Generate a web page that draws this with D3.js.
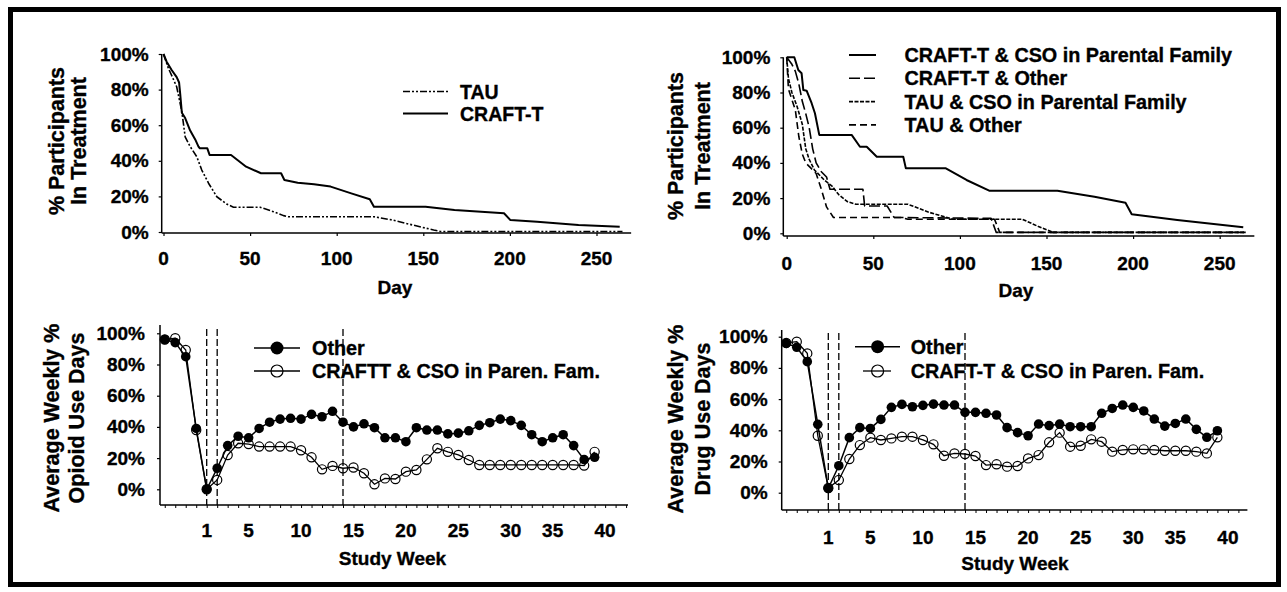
<!DOCTYPE html>
<html><head><meta charset="utf-8">
<script src="https://cdn.jsdelivr.net/npm/d3@7"></script>
<style>
body{margin:0;background:#fff;}
svg text{font-family:"Liberation Sans",Arial,Helvetica,sans-serif;font-weight:bold;fill:#000;stroke:#000;stroke-width:0.35px;}
</style></head><body>
<svg id="c" width="1287" height="592"></svg>
<script>
// ---------- DATA ----------
const dayTicks = [0, 50, 100, 150, 200, 250];
const pctTicks = [0, 20, 40, 60, 80, 100];

// Top-left: retention by condition [day, % in treatment]
const tauCurve = [[0,100],[2.8,92],[4.7,88],[7.6,81.6],[10.6,67.6],[12.5,53.5],[15.4,48],[19.2,42.3],[22.1,34.8],[26,27.4],[30.8,19.8],[36.5,15.7],[40.4,13.9],[55.8,13.9],[63.5,11.4],[69.3,9.2],[72,8.6],[121.5,8.6],[132.3,6.7],[144,3.9],[156,1.1],[160,0.3],[265,0.3]];
const craftCurve = [[0,100],[1.8,95.7],[4.7,91],[7.6,87],[9,84],[9.6,78],[10.6,67],[12.5,64],[15.4,57],[18.3,52],[20.2,48],[21,47],[25.3,47],[26.6,43.3],[39,43.3],[47.7,36.7],[56.3,33],[67.9,33],[69.8,29.2],[77.5,27.7],[86.9,26.8],[96.5,25.5],[108.4,21.7],[119.1,18.4],[121.5,14.2],[151.3,14.2],[168,12.4],[196.6,10.5],[200.3,6.7],[215.7,5.8],[239.6,3.9],[263.4,3]];
const topLeftNames = ["TAU", "CRAFT-T"];

// Top-right: retention by condition x CSO
const craftParentCurve = [[0,100],[4.4,100],[6.7,92.8],[8.6,90.9],[9.6,81.4],[11.5,81],[14.4,73.9],[16.3,68.2],[18.8,55.9],[37.5,55.9],[42.3,49.2],[46.2,49.2],[52,43.5],[67.3,43.5],[68.8,36.9],[91.9,36.9],[103.8,30.3],[116.9,24.2],[156.3,24.2],[177.7,20.8],[195.6,17.4],[199.2,10.8],[225.5,7.6],[263.6,3.4]];
const craftOtherCurve = [[0,100],[3,96],[5,92],[7,85],[9,75],[11,68],[13,60],[15,48],[17,40],[20,35],[23,32],[25,25],[44,25],[45,15.5],[58,15.5],[62,9],[118,8.5],[121,0.5],[265,0.5]];
const tauParentCurve = [[0,100],[1,88],[3,80],[6,72],[9,62],[11,48],[13,42],[16,36],[19,33],[22,30],[26,27],[30,22],[35,18],[40,16.5],[70,16.5],[82,12],[96,8],[136,8],[145,4],[154,0.5],[265,0.5]];
const tauOtherCurve = [[0,100],[1,82],[3,76],[5,70],[7,55],[9,45],[11,40],[14,37],[17,34],[20,25],[23,15],[27,9],[66,9],[70,8],[120,8],[123,0.5],[265,0.5]];
const topRightNames = ["CRAFT-T & CSO in Parental Family", "CRAFT-T & Other", "TAU & CSO in Parental Family", "TAU & Other"];

// Bottom: weekly % use days
const weeks = [-3,-2,-1,0,1,2,3,4,5,6,7,8,9,10,11,12,13,14,15,16,17,18,19,20,21,22,23,24,25,26,27,28,29,30,31,32,33,34,35,36,37,38];
const opioidOther = [96,94,85,39,0,13.5,28,34,33,39,43,45,45.5,45,48,46.5,50,43,40,42,39.5,33,33,30.5,39.5,38,38,35.5,36,37.5,41,42.7,45,44,41,35,30.5,33,35,28,19,20.5];
const opioidCraft = [96,96.8,89.3,38,0,6,22,29.5,29,27.4,27.4,27.4,27.4,25,20.5,12.8,15,13.5,14,10.3,3.2,7,6.6,11.3,12.4,19.2,26.3,24,22,18.8,15.6,15.6,15.6,15.6,15.6,15.6,15.6,15.6,15.6,15.6,15.2,24];
const drugOther = [95.7,93.2,84,43.8,2.8,17.3,35.3,41.7,41.2,47,54.7,56.6,55.1,56,56.8,56.2,56.2,51.5,51.5,50.9,49.8,41.7,38.5,36.5,44,43,44,42.3,42.3,42.3,50.9,54,56.2,54.7,52.4,47.2,42.7,44.4,47.2,40.6,35.5,39.7];
const drugCraft = [96,96.8,89.3,36.5,3,8.1,21.6,30.5,35.3,33.8,34.8,35.9,35.9,33.8,31,23.7,25.2,24.8,23.5,17.7,18.2,16.7,17.1,22,24.1,32.3,38.5,29.5,30.1,34.2,32.7,26.3,27.4,27.8,27.8,27.4,26.9,26.9,26.9,26.3,25.2,35.5];
const weekTickValues = [1,5,10,15,20,25,30,34,39];
const weekTickLabels = ["1","5","10","15","20","25","30","35","40"];
const phaseWeeks = [1, 2, 14];
const minorWeeks = [-3,-2,-1,0,1,2,3,4,5,6,7,8,9,10,11,12,13,14,15,16,17,18,19,20,21,22,23,24,25,26,27,28,29,30,31,32,33,34,35,36,37,38,39,40,41];

// ---------- DRAW ----------
const svg = d3.select("#c");
svg.append("rect").attr("width",1287).attr("height",592).attr("fill","#fff");
svg.append("rect").attr("x",10.5).attr("y",9.5).attr("width",1268).attr("height",575)
  .attr("fill","none").attr("stroke","#000").attr("stroke-width",5);

function yTitle(lines, cx, cy, fs){
  lines.forEach((t,i)=>{
    const c = cx[i];
    svg.append("text").attr("transform",`translate(${c+0.36*fs},${cy}) rotate(-90)`)
      .attr("text-anchor","middle").style("font-size",fs+"px").text(t);
  });
}

function survivalPanel(cfg){
  const x = d3.scaleLinear().domain([0,270]).range([cfg.x0, cfg.x0 + 270*1.732]);
  const y = d3.scaleLinear().domain([0,100]).range([cfg.y0, cfg.y100]);
  const g = svg.append("g");
  g.append("line").attr("x1",cfg.axX).attr("x2",cfg.axX).attr("y1",y(100)).attr("y2",cfg.axY).attr("stroke","#000").attr("stroke-width",1.5);
  g.append("line").attr("x1",cfg.axX).attr("x2",x(270)).attr("y1",cfg.axY).attr("y2",cfg.axY).attr("stroke","#000").attr("stroke-width",1.5);
  const ya = g.append("g").attr("transform",`translate(${cfg.axX},0)`)
    .call(d3.axisLeft(y).tickValues(pctTicks).tickSize(3).tickPadding(cfg.labGap).tickFormat(d=>d+"%"));
  ya.select(".domain").remove();
  ya.selectAll("text").style("font-size","19px").style("font-family",null);
  ya.selectAll("line").attr("stroke-width",1.2);
  const xa = g.append("g").attr("transform",`translate(0,${cfg.axY})`)
    .call(d3.axisBottom(x).tickValues(dayTicks).tickSize(3).tickFormat(""));
  xa.select(".domain").remove();
  xa.selectAll("line").attr("stroke-width",1.2);
  g.selectAll(".dl").data(dayTicks).join("text").attr("x",d=>x(d)).attr("y",cfg.xLabY)
    .attr("text-anchor","middle").style("font-size","19px").text(d=>d);
  g.append("text").attr("x",cfg.dayX).attr("y",cfg.dayY).attr("text-anchor","middle").style("font-size","19px").text("Day");
  const line = d3.line().x(d=>x(d[0])).y(d=>y(d[1]));
  cfg.series.forEach(s=>{
    g.append("path").attr("d",line(s.data)).attr("fill","none").attr("stroke","#000")
      .attr("stroke-width",s.w).attr("stroke-dasharray",s.dash||null).attr("stroke-linejoin","round");
  });
  cfg.series.forEach((s,i)=>{
    const ly = cfg.legY + i*cfg.legStep;
    g.append("line").attr("x1",cfg.legX1).attr("x2",cfg.legX2).attr("y1",ly).attr("y2",ly)
      .attr("stroke","#000").attr("stroke-width",s.w).attr("stroke-dasharray",s.dash||null);
    g.append("text").attr("x",cfg.legTX).attr("y",ly+7).style("font-size",cfg.legFs+"px").text(s.name);
  });
}

survivalPanel({x0:163.5, y0:232, y100:54, axX:161.7, axY:233, labGap:10, xLabY:265, dayX:395, dayY:294,
  legX1:403, legX2:448, legTX:460, legY:91.5, legStep:22, legFs:19.5,
  series:[{name:topLeftNames[0],data:tauCurve,w:1.6,dash:"7,2,2,2,2,2"},
          {name:topLeftNames[1],data:craftCurve,w:2}]});
yTitle(["% Participants","In Treatment"],[55.8,78.5],141,21.5);

survivalPanel({x0:786.7, y0:233.3, y100:57.3, axX:783.3, axY:236, labGap:10, xLabY:270, dayX:1016, dayY:297,
  legX1:849, legX2:876, legTX:904.5, legY:55, legStep:23.3, legFs:19.8,
  series:[{name:topRightNames[0],data:craftParentCurve,w:2},
          {name:topRightNames[1],data:craftOtherCurve,w:1.6,dash:"11,4"},
          {name:topRightNames[2],data:tauParentCurve,w:1.6,dash:"4,1.5"},
          {name:topRightNames[3],data:tauOtherCurve,w:1.6,dash:"7,4"}]});
yTitle(["% Participants","In Treatment"],[675,702],146,21.5);

function weeklyPanel(cfg){
  const x = d3.scaleLinear().domain([1,14]).range([cfg.w1, cfg.w14]);
  const y = d3.scaleLinear().domain([0,100]).range([cfg.y0, cfg.y100]);
  const g = svg.append("g");
  g.append("line").attr("x1",cfg.axX).attr("x2",cfg.axX).attr("y1",cfg.axTop).attr("y2",cfg.axY).attr("stroke","#000").attr("stroke-width",1.5);
  g.append("line").attr("x1",cfg.axX).attr("x2",cfg.axEnd).attr("y1",cfg.axY).attr("y2",cfg.axY).attr("stroke","#000").attr("stroke-width",1.5);
  const ya = g.append("g").attr("transform",`translate(${cfg.axX},0)`)
    .call(d3.axisLeft(y).tickValues(pctTicks).tickSize(3).tickPadding(cfg.labGap).tickFormat(d=>d+"%"));
  ya.select(".domain").remove();
  ya.selectAll("text").style("font-size","19px").style("font-family",null);
  ya.selectAll("line").attr("stroke-width",1.2);
  const xa = g.append("g").attr("transform",`translate(0,${cfg.axY})`)
    .call(d3.axisBottom(x).tickValues(minorWeeks.filter(w=>x(w)>cfg.axX+2 && x(w)<cfg.axEnd)).tickSize(3).tickFormat(""));
  xa.select(".domain").remove();
  xa.selectAll("line").attr("stroke-width",1);
  g.selectAll(".wl").data(weekTickValues).join("text").attr("x",d=>x(d)).attr("y",cfg.xLabY)
    .attr("text-anchor","middle").style("font-size","19px").text((d,i)=>weekTickLabels[i]);
  g.append("text").attr("x",cfg.titX).attr("y",cfg.titY).attr("text-anchor","middle").style("font-size","19px").text("Study Week");
  g.selectAll(".ph").data(phaseWeeks).join("line").attr("x1",d=>x(d)).attr("x2",d=>x(d))
    .attr("y1",cfg.dashTop).attr("y2",cfg.axY).attr("stroke","#000").attr("stroke-width",1.3).attr("stroke-dasharray","7,3");
  const line = d3.line().x((d,i)=>x(weeks[i])).y(d=>y(d));
  g.append("path").attr("d",line(cfg.craft)).attr("fill","none").attr("stroke","#000").attr("stroke-width",1.3);
  g.append("path").attr("d",line(cfg.other)).attr("fill","none").attr("stroke","#000").attr("stroke-width",1.5);
  g.selectAll(".oc").data(cfg.craft).join("circle").attr("cx",(d,i)=>x(weeks[i])).attr("cy",d=>y(d))
    .attr("r",4.6).attr("fill","none").attr("stroke","#000").attr("stroke-width",1.2);
  g.selectAll(".fc").data(cfg.other).join("circle").attr("cx",(d,i)=>x(weeks[i])).attr("cy",d=>y(d))
    .attr("r",4.8).attr("fill","#000");
  g.append("line").attr("x1",cfg.l1a).attr("x2",cfg.l1b).attr("y1",cfg.ly1).attr("y2",cfg.ly1).attr("stroke","#000").attr("stroke-width",1.5);
  g.append("circle").attr("cx",cfg.lm).attr("cy",cfg.ly1).attr("r",6.5).attr("fill","#000");
  g.append("text").attr("x",cfg.ltx).attr("y",cfg.ly1+7).style("font-size","19.8px").text("Other");
  g.append("line").attr("x1",cfg.l2a).attr("x2",cfg.l2b).attr("y1",cfg.ly2).attr("y2",cfg.ly2).attr("stroke","#000").attr("stroke-width",1.3);
  g.append("circle").attr("cx",cfg.lm).attr("cy",cfg.ly2).attr("r",6).attr("fill","none").attr("stroke","#000").attr("stroke-width",1.2);
  g.append("text").attr("x",cfg.ltx).attr("y",cfg.ly2+7).style("font-size","19.8px").text(cfg.craftName);
}

weeklyPanel({w1:206.7, w14:343, y0:489.3, y100:333.3, axX:160, axY:505, axTop:325, axEnd:628, labGap:12,
  xLabY:537, titX:392.5, titY:565, dashTop:329,
  other:opioidOther, craft:opioidCraft, craftName:"CRAFTT & CSO in Paren. Fam.",
  l1a:254, l1b:300, l2a:254, l2b:300, lm:277, ly1:348, ly2:371, ltx:312});
yTitle(["Average Weekly %","Opioid Use Days"],[51.6,76.4],418,21.5);

weeklyPanel({w1:828.3, w14:965, y0:492.7, y100:336.7, axX:781.7, axY:510, axTop:330, axEnd:1247.4, labGap:11,
  xLabY:543.5, titX:1015, titY:570, dashTop:333,
  other:drugOther, craft:drugCraft, craftName:"CRAFT-T & CSO in Paren. Fam.",
  l1a:855, l1b:900, l2a:863, l2b:891, lm:877.6, ly1:346.7, ly2:371, ltx:910.7});
yTitle(["Average Weekly %","Drug Use Days"],[675,702],419,21.5);
</script>
</body></html>
